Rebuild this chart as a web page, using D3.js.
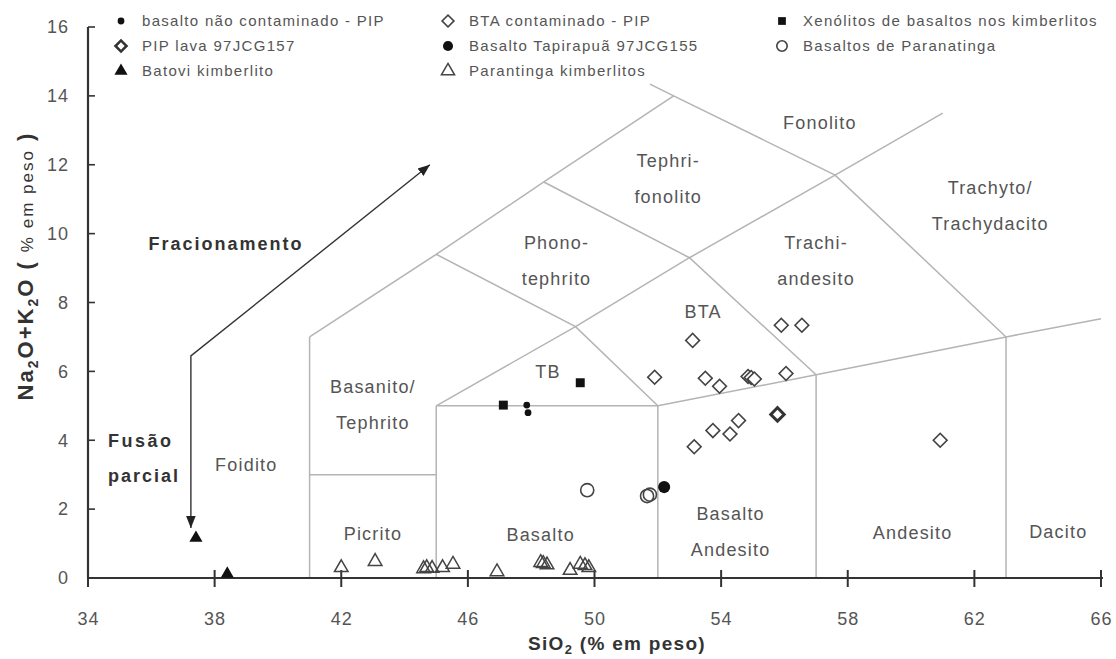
<!DOCTYPE html>
<html><head><meta charset="utf-8">
<script src="https://cdn.jsdelivr.net/npm/d3@7"></script>
<style>
body{margin:0;background:#fff;}
text{font-family:"Liberation Sans",Arial,sans-serif;}
</style></head>
<body><svg id="c" width="1116" height="659"></svg>
<script>
// ---- data ----
const xTicks = [34,38,42,46,50,54,58,62,66];
const yTicks = [0,2,4,6,8,10,12,14,16];

// TAS boundary polylines [SiO2, Na2O+K2O]
const tasLines = [
  [[41,0],[41,7]],
  [[41,3],[45,3]],
  [[45,0],[45,5]],
  [[45,5],[52,5]],
  [[52,0],[52,5]],
  [[52,5],[57,5.9],[63,7],[66,7.53]],
  [[57,0],[57,5.9]],
  [[63,0],[63,7]],
  [[41,7],[45,9.4],[48.4,11.5],[52.5,14]],
  [[45,5],[49.4,7.3],[53,9.3],[57.6,11.7],[61,13.5]],
  [[45,9.4],[49.4,7.3],[52,5]],
  [[48.4,11.5],[53,9.3],[57,5.9]],
  [[51.75,14.34],[52.5,14],[57.6,11.7],[63,7]]
];

const fieldLabels = [
  {t:["Foidito"], x:39.0, y:3.12},
  {t:["Basanito/","Tephrito"], x:43.0, y:5.38},
  {t:["Picrito"], x:43.0, y:1.1},
  {t:["Basalto"], x:48.3, y:1.07},
  {t:["Basalto","Andesito"], x:54.3, y:1.68},
  {t:["Andesito"], x:60.05, y:1.13},
  {t:["Dacito"], x:64.65, y:1.15},
  {t:["TB"], x:48.53, y:5.8},
  {t:["BTA"], x:53.43, y:7.56},
  {t:["Phono-","tephrito"], x:48.8, y:9.54},
  {t:["Tephri-","fonolito"], x:52.33, y:11.93},
  {t:["Fonolito"], x:57.12, y:13.05},
  {t:["Trachi-","andesito"], x:57.0, y:9.55},
  {t:["Trachyto/","Trachydacito"], x:62.5, y:11.15}
];

// arrow path: tip1 <- corner -> tip2
const arrowPts = [[44.8,12.0],[37.25,6.45],[37.25,1.45]];

const basaltoNaoContaminado = [[47.86,5.02],[47.9,4.8]];
const pipLava = [[55.78,4.75]];
const batovi = [[37.41,1.16],[38.4,0.12]];
const btaContaminado = [
  [53.1,6.9],[51.9,5.83],[53.5,5.8],[53.95,5.57],[54.85,5.85],[54.95,5.82],[55.05,5.78],
  [56.05,5.94],[55.9,7.34],[56.55,7.34],[54.55,4.57],[54.28,4.18],[53.74,4.28],[53.15,3.81],[60.92,4.0]
];
const tapirapua = [[52.2,2.64]];
const parantinga = [
  [42.0,0.3],[43.07,0.48],[44.6,0.27],[44.7,0.3],[44.87,0.28],[45.2,0.3],[45.53,0.4],
  [46.92,0.18],[48.3,0.45],[48.38,0.42],[48.5,0.38],[49.23,0.22],[49.55,0.4],[49.7,0.36],[49.82,0.3]
];
const xenolitos = [[49.55,5.67],[47.12,5.02]];
const paranatinga = [[49.77,2.55],[51.66,2.38],[51.75,2.42]];

const legendNames = [
  "basalto não contaminado - PIP","PIP lava 97JCG157","Batovi kimberlito",
  "BTA contaminado - PIP","Basalto Tapirapuã 97JCG155","Parantinga kimberlitos",
  "Xenólitos de basaltos nos kimberlitos","Basaltos de Paranatinga"
];

// ---- drawing ----
const svg = d3.select("#c");
const x = d3.scaleLinear().domain([34,66]).range([88,1101]);
const y = d3.scaleLinear().domain([0,16]).range([578,27]);

const styles = {
  dot:   {type:d3.symbolCircle, size:36, fill:"#111", stroke:"none", sw:0, rot:0},
  pip:   {type:d3.symbolSquare, size:90, fill:"none", stroke:"#333", sw:3, rot:45},
  tri:   {type:d3.symbolTriangle, size:75, fill:"#111", stroke:"none", sw:0, rot:0},
  dia:   {type:d3.symbolSquare, size:95, fill:"#fff", stroke:"#444", sw:1.6, rot:45},
  big:   {type:d3.symbolCircle, size:115, fill:"#111", stroke:"none", sw:0, rot:0},
  otri:  {type:d3.symbolTriangle, size:80, fill:"none", stroke:"#444", sw:1.5, rot:0},
  sq:    {type:d3.symbolSquare, size:80, fill:"#111", stroke:"none", sw:0, rot:0},
  ocirc: {type:d3.symbolCircle, size:135, fill:"none", stroke:"#444", sw:1.6, rot:0}
};

// TAS lines
const line = d3.line().x(d=>x(d[0])).y(d=>y(d[1]));
svg.append("g").selectAll("path").data(tasLines).join("path")
  .attr("d", line).attr("fill","none").attr("stroke","#b4b4b4").attr("stroke-width",1.5);

// field labels
const fl = svg.append("g").attr("fill","#555").attr("font-size",18).attr("letter-spacing",1.2).attr("text-anchor","middle");
fieldLabels.forEach(f=>{
  const t = fl.append("text").attr("x",x(f.x)).attr("y",y(f.y));
  f.t.forEach((s,i)=>t.append("tspan").attr("x",x(f.x)).attr("dy", i===0?0:36).text(s));
});

// arrows
const defs = svg.append("defs");
defs.append("marker").attr("id","ah").attr("viewBox","0 0 10 10").attr("refX",10).attr("refY",5)
  .attr("markerWidth",12).attr("markerHeight",12).attr("markerUnits","userSpaceOnUse").attr("orient","auto")
  .append("path").attr("d","M0,1 L10,5 L0,9 Z").attr("fill","#222");
defs.append("marker").attr("id","ahs").attr("viewBox","0 0 10 10").attr("refX",10).attr("refY",5)
  .attr("markerWidth",12).attr("markerHeight",12).attr("markerUnits","userSpaceOnUse").attr("orient","auto-start-reverse")
  .append("path").attr("d","M0,1 L10,5 L0,9 Z").attr("fill","#222");
svg.append("path").datum(arrowPts).attr("d",line).attr("fill","none").attr("stroke","#333")
  .attr("stroke-width",1.4).attr("marker-start","url(#ahs)").attr("marker-end","url(#ah)");

svg.append("text").attr("x",226).attr("y",250).attr("text-anchor","middle").attr("font-size",18)
  .attr("letter-spacing",2).attr("font-weight","bold").attr("fill","#333").text("Fracionamento");
svg.append("text").attr("x",108).attr("y",447).attr("font-size",18).attr("letter-spacing",2.5)
  .attr("font-weight","bold").attr("fill","#333").text("Fusão");
svg.append("text").attr("x",108).attr("y",482).attr("font-size",18).attr("letter-spacing",2)
  .attr("font-weight","bold").attr("fill","#333").text("parcial");

// axes
const ax = svg.append("g").attr("transform","translate(0,578)")
  .call(d3.axisBottom(x).tickValues(xTicks).tickSize(0).tickPadding(34).tickFormat(d3.format("d")));
ax.select(".domain").remove();
ax.selectAll("text").attr("font-size",18).attr("letter-spacing",1).attr("fill","#555").attr("font-family","Liberation Sans, Arial, sans-serif");
svg.append("line").attr("x1",x(34)).attr("x2",x(66)+2).attr("y1",y(0)).attr("y2",y(0)).attr("stroke","#333").attr("stroke-width",2.2);
svg.append("g").selectAll("line").data(xTicks).join("line")
  .attr("x1",d=>x(d)).attr("x2",d=>x(d)).attr("y1",y(0)-8).attr("y2",y(0)+9).attr("stroke","#333").attr("stroke-width",2);

const ay = svg.append("g").attr("transform","translate(88,0)")
  .call(d3.axisLeft(y).tickValues(yTicks).tickSize(0).tickPadding(19).tickFormat(d3.format("d")));
ay.select(".domain").remove();
ay.selectAll("text").attr("font-size",18).attr("letter-spacing",1).attr("fill","#555").attr("font-family","Liberation Sans, Arial, sans-serif");
svg.append("line").attr("x1",88).attr("x2",88).attr("y1",y(16)).attr("y2",y(0)).attr("stroke","#333").attr("stroke-width",2.2);
svg.append("g").selectAll("line").data(yTicks).join("line")
  .attr("x1",88).attr("x2",95).attr("y1",d=>y(d)).attr("y2",d=>y(d)).attr("stroke","#333").attr("stroke-width",1.6);

// axis titles
const xt = svg.append("text").attr("x",617).attr("y",650).attr("text-anchor","middle")
  .attr("font-size",19).attr("letter-spacing",1.3).attr("font-weight","bold").attr("fill","#333");
xt.append("tspan").text("SiO");
xt.append("tspan").attr("font-size",13).attr("dy",4).text("2");
xt.append("tspan").attr("dy",-4).text(" (% em peso)");

const yt = svg.append("text").attr("transform","translate(33,266) rotate(-90)").attr("text-anchor","middle")
  .attr("font-size",22).attr("letter-spacing",2).attr("fill","#333");
yt.append("tspan").attr("font-weight","bold").text("Na");
yt.append("tspan").attr("font-weight","bold").attr("font-size",14).attr("dy",5).text("2");
yt.append("tspan").attr("font-weight","bold").attr("dy",-5).text("O+K");
yt.append("tspan").attr("font-weight","bold").attr("font-size",14).attr("dy",5).text("2");
yt.append("tspan").attr("font-weight","bold").attr("dy",-5).text("O  ( ");
yt.append("tspan").attr("font-size",17).text("% em peso");
yt.append("tspan").attr("font-weight","bold").text(" )");

// data points
const sym = (st)=>d3.symbol().type(st.type).size(st.size)();
function plot(data, st){
  svg.append("g").selectAll("path").data(data).join("path")
    .attr("d", sym(st))
    .attr("transform", d=>`translate(${x(d[0])},${y(d[1])}) rotate(${st.rot})`)
    .attr("fill", st.fill).attr("stroke", st.stroke).attr("stroke-width", st.sw);
}
plot(parantinga, styles.otri);
plot(batovi, styles.tri);
plot(paranatinga, styles.ocirc);
plot(tapirapua, styles.big);
plot(btaContaminado, styles.dia);
plot(pipLava, styles.pip);
plot(xenolitos, styles.sq);
plot(basaltoNaoContaminado, styles.dot);

// legend
const legStyles = [styles.dot, styles.pip, styles.tri, styles.dia, styles.big, styles.otri, styles.sq, styles.ocirc];
const legSmall = [36, 60, 75, 70, 80, 75, 60, 85];
const colX = [121, 448, 782];
const rowY = [21, 46, 71];
const legOrder = [[0,0],[0,1],[0,2],[1,0],[1,1],[1,2],[2,0],[2,1]];
const lg = svg.append("g");
legendNames.forEach((n,i)=>{
  const [c,r] = legOrder[i];
  const st = Object.assign({}, legStyles[i], {size: legSmall[i]});
  lg.append("path").attr("d", sym(st))
    .attr("transform", `translate(${colX[c]},${rowY[r]}) rotate(${st.rot})`)
    .attr("fill", st.fill).attr("stroke", st.stroke).attr("stroke-width", st.sw===3?2.6:st.sw);
  lg.append("text").attr("x", colX[c]+21).attr("y", rowY[r]+5).attr("font-size",15)
    .attr("letter-spacing",1.3).attr("fill","#555").text(n);
});
</script></body></html>
